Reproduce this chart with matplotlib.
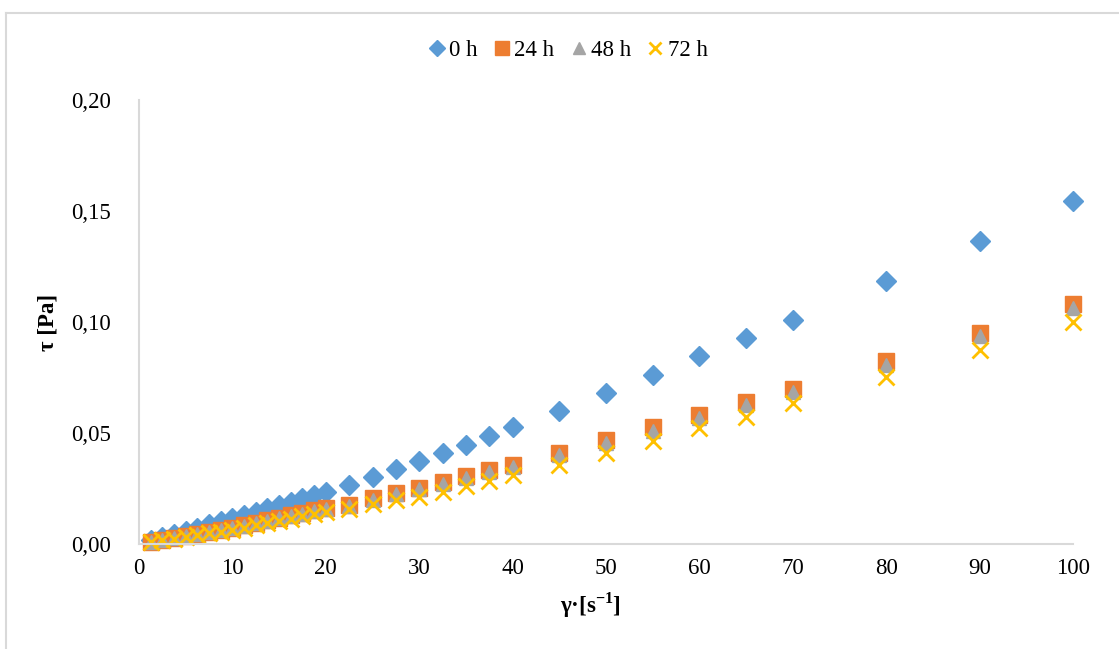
import matplotlib.pyplot as plt
from matplotlib.lines import Line2D
from matplotlib.ticker import FuncFormatter

# shear rate [1/s]
shear = [1.25, 2.5, 3.75, 5, 6.25, 7.5, 8.75, 10, 11.25, 12.5, 13.75, 15,
         16.25, 17.5, 18.75, 20, 22.5, 25, 27.5, 30, 32.5, 35, 37.5, 40,
         45, 50, 55, 60, 65, 70, 80, 90, 100]

# shear stress [Pa]
tau_0h = [0.0018, 0.0032, 0.0046, 0.0060, 0.0074, 0.0088, 0.0102, 0.0116,
          0.0130, 0.0146, 0.0160, 0.0176, 0.0190, 0.0207, 0.0220, 0.0234,
          0.0266, 0.0302, 0.0338, 0.0372, 0.0410, 0.0447, 0.0485, 0.0525,
          0.0601, 0.0680, 0.0761, 0.0847, 0.0928, 0.1009, 0.1185, 0.1365, 0.1545]
tau_24h = [0.0010, 0.0019, 0.0028, 0.0037, 0.0046, 0.0055, 0.0064, 0.0073,
           0.0085, 0.0096, 0.0107, 0.0118, 0.0129, 0.0140, 0.0151, 0.0162,
           0.0177, 0.0205, 0.0230, 0.0252, 0.0278, 0.0305, 0.0333, 0.0356,
           0.0412, 0.0468, 0.0525, 0.0581, 0.0640, 0.0700, 0.0824, 0.0950, 0.1080]
tau_48h = [0.0009, 0.0018, 0.0027, 0.0036, 0.0045, 0.0054, 0.0062, 0.0071,
           0.0082, 0.0093, 0.0104, 0.0115, 0.0126, 0.0137, 0.0147, 0.0157,
           0.0172, 0.0199, 0.0224, 0.0246, 0.0271, 0.0297, 0.0325, 0.0347,
           0.0401, 0.0457, 0.0511, 0.0567, 0.0624, 0.0683, 0.0805, 0.0935, 0.1065]
tau_72h = [0.0008, 0.0016, 0.0024, 0.0032, 0.0040, 0.0048, 0.0056, 0.0064,
           0.0074, 0.0084, 0.0094, 0.0104, 0.0114, 0.0124, 0.0134, 0.0143,
           0.0158, 0.0180, 0.0198, 0.0213, 0.0236, 0.0260, 0.0285, 0.0310,
           0.0356, 0.0410, 0.0465, 0.0522, 0.0574, 0.0635, 0.0754, 0.0874, 0.1001]

labels = ["0 h", "24 h", "48 h", "72 h"]

plt.rcParams['font.family'] = ['Liberation Serif', 'DejaVu Serif']
plt.rcParams['mathtext.fontset'] = 'custom'
plt.rcParams['mathtext.rm'] = 'Liberation Serif'
plt.rcParams['mathtext.bf'] = 'Liberation Serif:bold'

fig = plt.figure(figsize=(11.19, 6.49), dpi=100)
ax = fig.add_axes([139/1119, 105/649, (1073-139)/1119, 444/649])

ax.plot(shear, tau_0h, 'D', color='#5B9BD5', ms=10, mec='#5B9BD5', label=labels[0], clip_on=False)
ax.plot(shear, tau_24h, 's', color='#ED7D31', ms=12, mec='#ED7D31', label=labels[1], clip_on=False)
ax.plot(shear, tau_48h, '^', color='#A5A5A5', ms=10, mec='#A5A5A5', label=labels[2], clip_on=False)
ax.plot(shear, tau_72h, 'x', color='#FFC000', ms=11, mew=2, label=labels[3], clip_on=False)

ax.set_xlim(0, 100)
ax.set_ylim(0, 0.20)
ax.set_xticks(range(0, 101, 10))
ax.set_yticks([0, 0.05, 0.10, 0.15, 0.20])
ax.yaxis.set_major_formatter(FuncFormatter(lambda v, p: f"{v:.2f}".replace('.', ',')))
ax.tick_params(length=0, labelsize=16.5, colors='black')
ax.tick_params(axis='y', pad=20)
ax.tick_params(axis='x', pad=10)

for s in ['top', 'right']:
    ax.spines[s].set_visible(False)
for s in ['left', 'bottom']:
    ax.spines[s].set_color('#d9d9d9')
    ax.spines[s].set_linewidth(1.5)

fig.text(48/1119, 1 - 322/649, "τ [Pa]", rotation=90, ha='center', va='center',
         fontsize=16.5, fontweight='bold')
fig.text(590/1119, 1 - 605/649, r"γ·[s$^{\mathbf{-1}}$]", ha='center', va='center',
         fontsize=16.5, fontweight='bold')

leg = fig.legend(loc='center', bbox_to_anchor=(566/1119, 1 - 50/649), ncol=4,
                 frameon=False, fontsize=16.5, handletextpad=0.0, columnspacing=0.5,
                 handlelength=1.1, markerscale=0.85)

# outer chart border
fig.add_artist(Line2D([6/1119, 6/1119], [0, 1 - 13/649], color='#d9d9d9', lw=1.5))
fig.add_artist(Line2D([6/1119, 1], [1 - 13/649, 1 - 13/649], color='#d9d9d9', lw=1.5))

fig.savefig("out.png", dpi=100)
